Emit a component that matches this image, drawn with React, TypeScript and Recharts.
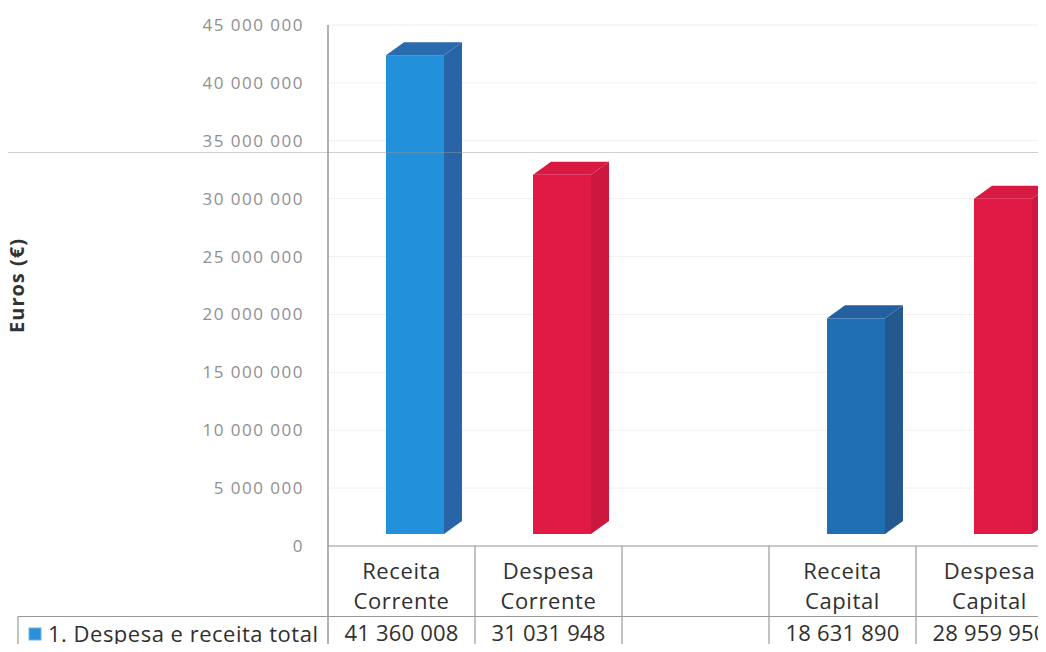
import { BarChart, Bar, XAxis, YAxis, CartesianGrid } from "recharts";

const categories = ["Receita Corrente", "Despesa Corrente", "", "Receita Capital", "Despesa Capital"];
const values: (number | null)[] = [41360008, 31031948, null, 18631890, 28959950];
const seriesName = "1. Despesa e receita total";
const yTicks = [0, 5000000, 10000000, 15000000, 20000000, 25000000, 30000000, 35000000, 40000000, 45000000];

// front / side / top for each category
const barColors = [
  ["#2290db", "#2a64a8", "#2a6aae"],
  ["#e01a45", "#cc173e", "#d81942"],
  ["#ffffff", "#ffffff", "#ffffff"],
  ["#206fb3", "#23598f", "#24609f"],
  ["#e01a45", "#cc173e", "#d81942"],
];

const data = categories.map((name, i) => ({ name, value: values[i] }));

const fmt = (v: number) => String(Math.round(v)).replace(/\B(?=(\d{3})+(?!\d))/g, " ");

const FONT = "'Open Sans', sans-serif";
const TEXT = "#2f2f2f";
const LINE = "#9a9a9a";

// 3d projection offsets
const SHIFT_X = 13;
const SHIFT_Y = 12;
const DX = 18;
const DY = 13;

function Bar3D(props: any) {
  const { x, y, width, height, payload } = props;
  if (!height || height <= 0) return null;
  const ci = categories.indexOf(payload.name);
  const [front, side, top] = barColors[ci];
  const fx = x + SHIFT_X;
  const fy = y - SHIFT_Y;
  const r = fx + width;
  return (
    <g>
      <polygon
        points={`${fx},${fy} ${fx + DX},${fy - DY} ${r + DX},${fy - DY} ${r},${fy}`}
        fill={top}
      />
      <polygon
        points={`${r},${fy} ${r + DX},${fy - DY} ${r + DX},${fy + height - DY} ${r},${fy + height}`}
        fill={side}
      />
      <rect x={fx} y={fy} width={width} height={height} fill={front} />
    </g>
  );
}

function TableTick(props: any) {
  const { x, y, width, payload, index } = props;
  const band = width / categories.length;
  const left = x - band / 2;
  const right = x + band / 2;
  const bottom = y + 120;
  const rowY = y + 70.5;
  const lines = String(payload.value).split(" ").filter(Boolean);
  const v = values[index];
  return (
    <g>
      <line x1={right} y1={y} x2={right} y2={bottom} stroke={LINE} strokeWidth={1.2} />
      <line x1={left} y1={rowY} x2={right} y2={rowY} stroke={LINE} strokeWidth={1.2} />
      {index === 0 && (
        <g>
          <line x1={left} y1={y} x2={left} y2={bottom} stroke={LINE} strokeWidth={1.5} />
          <line x1={18} y1={rowY} x2={left} y2={rowY} stroke={LINE} strokeWidth={1.2} />
          <line x1={18} y1={rowY} x2={18} y2={bottom} stroke={LINE} strokeWidth={1.2} />
          <rect x={29} y={628} width={12} height={12} fill="#2d8fd8" stroke="#6fb3e6" strokeWidth={1} />
          <text x={48} y={y + 96} fontFamily={FONT} fontSize={22} fill={TEXT} letterSpacing={0.5}>
            {seriesName}
          </text>
        </g>
      )}
      {lines.map((t: string, i: number) => (
        <text
          key={i}
          x={x}
          y={y + 33 + i * 30}
          textAnchor="middle"
          fontFamily={FONT}
          fontSize={22}
          fill={TEXT}
          letterSpacing={0.6}
        >
          {t}
        </text>
      ))}
      {v != null && (
        <text
          x={x}
          y={y + 95}
          textAnchor="middle"
          fontFamily={FONT}
          fontSize={22}
          fill={TEXT}
          letterSpacing={0.2}
        >
          {fmt(v)}
        </text>
      )}
    </g>
  );
}

export default function App() {
  return (
    <div
      style={{
        margin: -8,
        width: 1046,
        height: 652,
        overflow: "hidden",
        position: "relative",
        background: "#fff",
      }}
    >
      <BarChart
        width={1070}
        height={652}
        data={data}
        margin={{ top: 25, right: 7, bottom: 0, left: 0 }}
        barCategoryGap={0}
      >
        <CartesianGrid vertical={false} stroke="#f1f1f1" />
        <YAxis
          width={328}
          domain={[0, 45000000]}
          ticks={yTicks}
          tickFormatter={fmt}
          tickSize={0}
          tickMargin={24}
          axisLine={{ stroke: LINE, strokeWidth: 1.5 }}
          tickLine={false}
          tick={{ fill: "#8f8f8f", fontSize: 17, fontFamily: FONT, letterSpacing: 1.5 }}
          label={{
            value: "Euros (€)",
            angle: -90,
            position: "insideLeft",
            offset: 17,
            style: {
              textAnchor: "middle",
              fontFamily: FONT,
              fontWeight: 700,
              fontSize: 20,
              fill: "#333",
              letterSpacing: 1,
            },
          }}
        />
        <XAxis
          dataKey="name"
          height={106}
          interval={0}
          tickSize={0}
          tickMargin={0}
          axisLine={{ stroke: LINE, strokeWidth: 1.2 }}
          tickLine={false}
          tick={<TableTick />}
        />
        <Bar dataKey="value" barSize={58} shape={<Bar3D />} isAnimationActive={false} />
      </BarChart>
      <div
        style={{
          position: "absolute",
          left: 0,
          top: 152,
          width: 1046,
          height: 1,
          background: "rgba(150,150,150,0.45)",
        }}
      />
    </div>
  );
}
